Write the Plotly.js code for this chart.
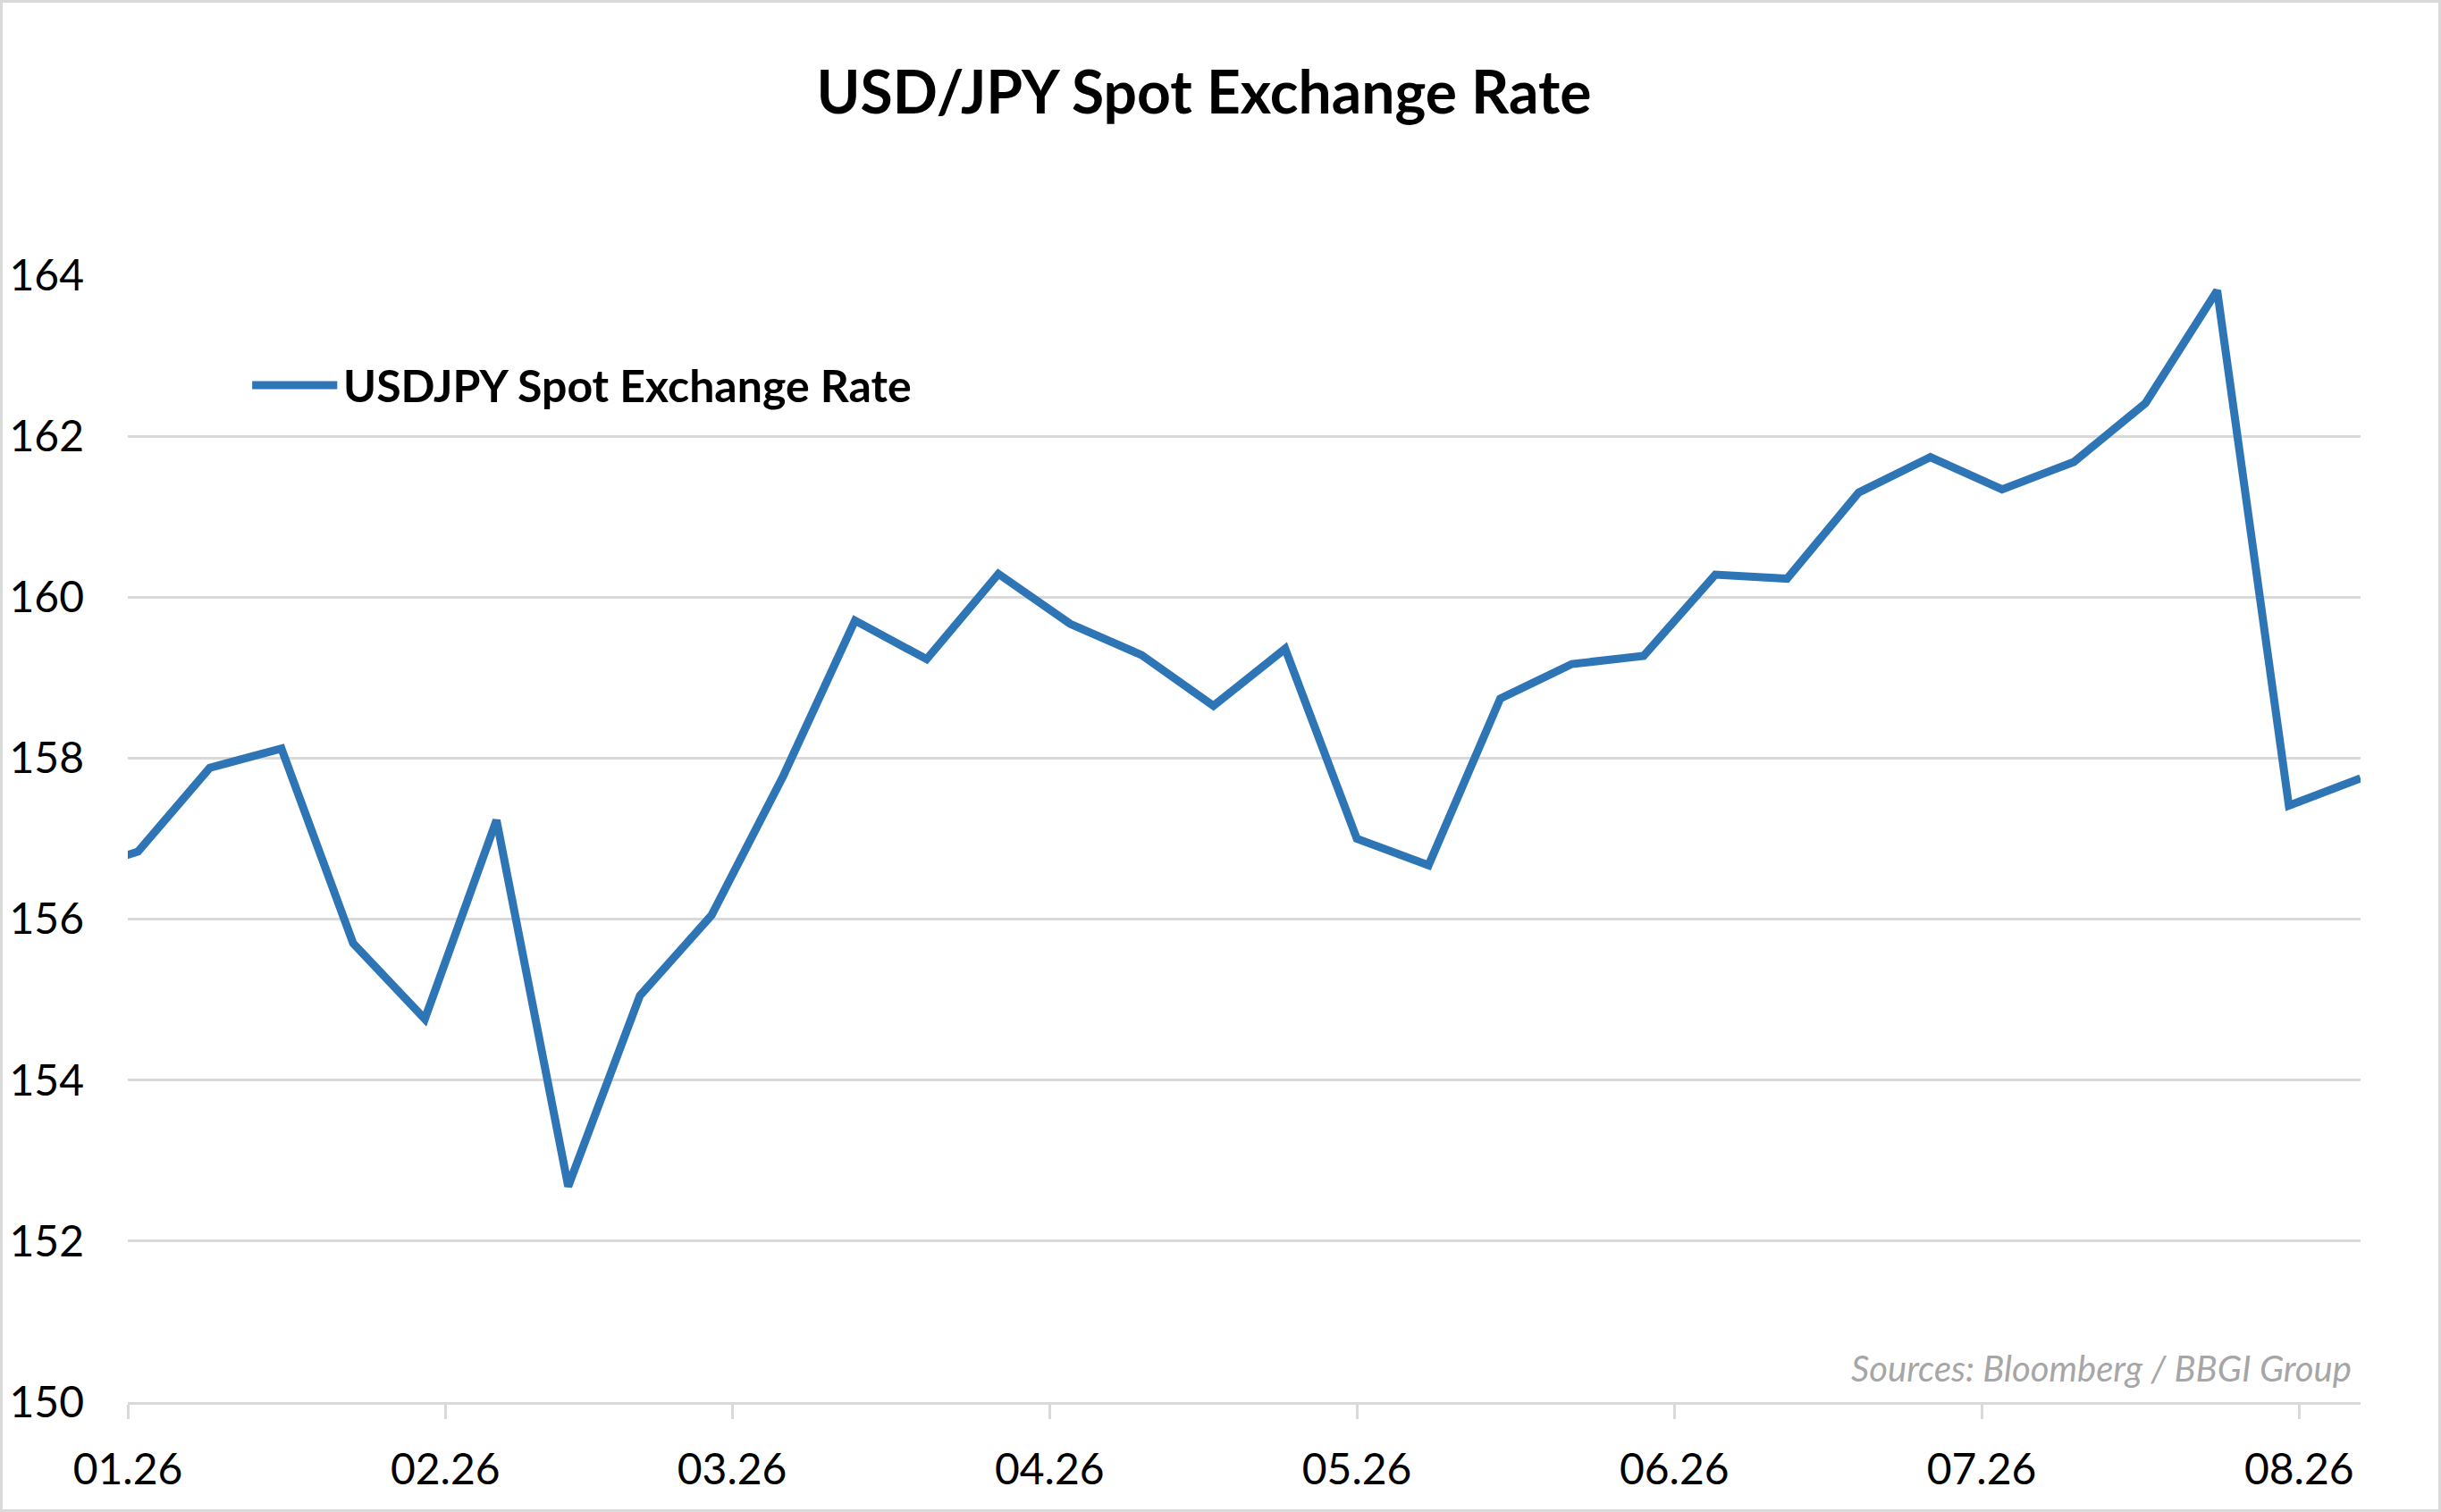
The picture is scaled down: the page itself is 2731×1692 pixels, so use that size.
<!DOCTYPE html>
<html>
<head>
<meta charset="utf-8">
<script src="https://cdn.plot.ly/plotly-3.0.1.min.js"></script>
<style>
  html, body { margin: 0; padding: 0; background: #fff; }
  #wrap { position: relative; width: 2731px; height: 1692px; }
  #usdjpy_chart { width: 2731px; height: 1692px; }
  #frame {
    position: absolute; left: 0; top: 0; width: 2731px; height: 1692px;
    box-sizing: border-box; border: 3px solid #d9d9d9; pointer-events: none;
  }
</style>
</head>
<body>
<div id="wrap">
  <div id="usdjpy_chart"></div>
  <div id="frame"></div>
</div>
<script>
// Weekly (Friday) USD/JPY spot fixes.
const weekDates = [
  '2025-12-26',
  '2026-01-02', '2026-01-09', '2026-01-16', '2026-01-23', '2026-01-30',
  '2026-02-06', '2026-02-13', '2026-02-20', '2026-02-27',
  '2026-03-06', '2026-03-13', '2026-03-20', '2026-03-27',
  '2026-04-03', '2026-04-10', '2026-04-17', '2026-04-24',
  '2026-05-01', '2026-05-08', '2026-05-15', '2026-05-22', '2026-05-29',
  '2026-06-05', '2026-06-12', '2026-06-19', '2026-06-26',
  '2026-07-03', '2026-07-10', '2026-07-17', '2026-07-24', '2026-07-31',
  '2026-08-07'
];
const spotRate = [
  156.55,
  156.84, 157.88, 158.12, 155.70, 154.76,
  157.23, 152.68, 155.05, 156.05,
  157.78, 159.71, 159.23, 160.29,
  159.67, 159.28, 158.65, 159.36,
  157.00, 156.67, 158.74, 159.17, 159.27,
  160.28, 160.23, 161.30, 161.74,
  161.34, 161.68, 162.41, 163.81, 157.41,
  157.75
];
const monthTicks = [
  '2026-01-01', '2026-02-01', '2026-03-01', '2026-04-01',
  '2026-05-01', '2026-06-01', '2026-07-01', '2026-08-01'
];
const monthLabels = ['01.26', '02.26', '03.26', '04.26', '05.26', '06.26', '07.26', '08.26'];
const seriesName = 'USDJPY Spot Exchange Rate';

const LINE_BLUE = '#2e75b6';
const GRID_GREY = '#d9d9d9';
const FONT = 'Lato, "Open Sans", sans-serif';

const traces = [{
  x: weekDates,
  y: spotRate,
  name: seriesName,
  type: 'scatter',
  mode: 'lines',
  line: { color: LINE_BLUE, width: 9 },
  cliponaxis: true,
  hoverinfo: 'x+y',
  showlegend: false
}];

const layout = {
  width: 2731,
  height: 1692,
  paper_bgcolor: '#ffffff',
  plot_bgcolor: '#ffffff',
  margin: { l: 143, r: 90, t: 308, b: 123, pad: 0 },
  font: { family: FONT, color: '#000000', size: 46 },
  title: {
    text: '<b>USD/JPY Spot Exchange Rate</b>',
    font: { family: FONT, size: 66, color: '#000000' },
    x: 1347 / 2731, xanchor: 'center', xref: 'container',
    y: 1 - 104 / 1692, yanchor: 'middle', yref: 'container'
  },
  xaxis: {
    type: 'date',
    range: ['2026-01-01', '2026-08-07'],
    tickmode: 'array',
    tickvals: monthTicks,
    ticktext: monthLabels,
    showgrid: false,
    zeroline: false,
    showline: true,
    linecolor: GRID_GREY,
    linewidth: 3,
    ticks: 'outside',
    ticklen: 16,
    tickwidth: 3,
    tickcolor: GRID_GREY,
    ticklabelstandoff: 15,
    tickfont: { family: FONT, size: 48, color: '#000000' },
    fixedrange: true
  },
  yaxis: {
    range: [150, 164],
    tickmode: 'linear',
    tick0: 150,
    dtick: 2,
    showgrid: true,
    gridcolor: GRID_GREY,
    gridwidth: 3,
    zeroline: false,
    showline: false,
    ticks: '',
    ticklabelstandoff: 48,
    tickfont: { family: FONT, size: 48, color: '#000000' },
    fixedrange: true
  },
  shapes: [{
    // legend key
    type: 'line', xref: 'paper', yref: 'paper',
    x0: 0.0557, x1: 0.0938, y0: 0.9025, y1: 0.9025,
    line: { color: LINE_BLUE, width: 9 }
  }],
  annotations: [
    {
      text: '<b>' + seriesName + '</b>',
      xref: 'paper', yref: 'paper',
      x: 0.0955, y: 0.9025, xanchor: 'left', yanchor: 'middle',
      showarrow: false,
      font: { family: FONT, size: 50, color: '#000000' }
    },
    {
      text: 'Sources: Bloomberg / BBGI Group',
      xref: 'paper', yref: 'paper',
      x: 0.9966, y: 0.0305, xanchor: 'right', yanchor: 'middle',
      showarrow: false,
      font: { family: FONT, size: 40, color: '#a6a6a6', style: 'italic' }
    }
  ],
  hovermode: 'closest',
  showlegend: false
};

Plotly.newPlot('usdjpy_chart', traces, layout, {
  displayModeBar: false,
  displaylogo: false
});
</script>
</body>
</html>
